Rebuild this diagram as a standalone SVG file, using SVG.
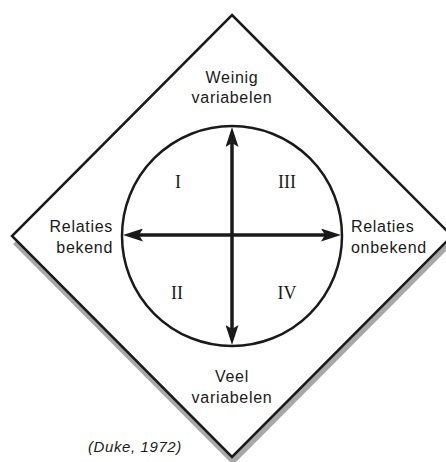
<svg xmlns="http://www.w3.org/2000/svg" width="446" height="462" viewBox="0 0 446 462">
<style>
.lbl{font-family:"Liberation Sans","DejaVu Sans",sans-serif;font-size:16px;letter-spacing:0.7px;fill:#1a1a1a}
.rom{font-family:"Liberation Serif","DejaVu Serif",serif;font-size:18px;fill:#1a1a1a;text-anchor:middle}
.ax{stroke:#1a1a1a;stroke-width:3.5;fill:none}
</style>
<defs>
<marker id="ah" viewBox="0 0 20 13" markerUnits="userSpaceOnUse" markerWidth="20" markerHeight="13" refX="4" refY="6.5" orient="auto-start-reverse">
<path d="M0,0 L20,6.5 L0,13 L4,6.5 z" fill="#1a1a1a"/>
</marker>
</defs>
<g id="frame">
<polygon points="233,23 453,244 233,465 13,244" fill="#a8a8a8"/>
<polygon points="232,15 452,236 232,457 12,236" fill="#fff" stroke="#1a1a1a" stroke-width="2.5"/>
</g>
<g id="circle">
<circle cx="232" cy="236" r="110" fill="none" stroke="#1a1a1a" stroke-width="2.5"/>
</g>
<g id="connectors">
<line class="ax" x1="232" y1="143" x2="232" y2="329" marker-start="url(#ah)" marker-end="url(#ah)"/>
<line class="ax" x1="139" y1="235" x2="325" y2="235" marker-start="url(#ah)" marker-end="url(#ah)"/>
</g>
<g id="top-label">
<text class="lbl" x="232" y="83" text-anchor="middle">Weinig</text>
<text class="lbl" x="232" y="103" text-anchor="middle">variabelen</text>
</g>
<g id="bottom-label">
<text class="lbl" x="232" y="382" text-anchor="middle">Veel</text>
<text class="lbl" x="232" y="403" text-anchor="middle">variabelen</text>
</g>
<g id="left-label">
<text class="lbl" x="113" y="232" text-anchor="end">Relaties</text>
<text class="lbl" x="113" y="253" text-anchor="end">bekend</text>
</g>
<g id="right-label">
<text class="lbl" x="351" y="232">Relaties</text>
<text class="lbl" x="351" y="253">onbekend</text>
</g>
<g id="quadrant-I"><text class="rom" x="178" y="188">I</text></g>
<g id="quadrant-III"><text class="rom" x="287" y="188">III</text></g>
<g id="quadrant-II"><text class="rom" x="177" y="299">II</text></g>
<g id="quadrant-IV"><text class="rom" x="287" y="299">IV</text></g>
<g id="source">
<text x="88" y="452" font-family="Liberation Sans, DejaVu Sans, sans-serif" font-size="15" letter-spacing="0.6" font-style="italic" fill="#1a1a1a">(Duke, 1972)</text>
</g>
</svg>
